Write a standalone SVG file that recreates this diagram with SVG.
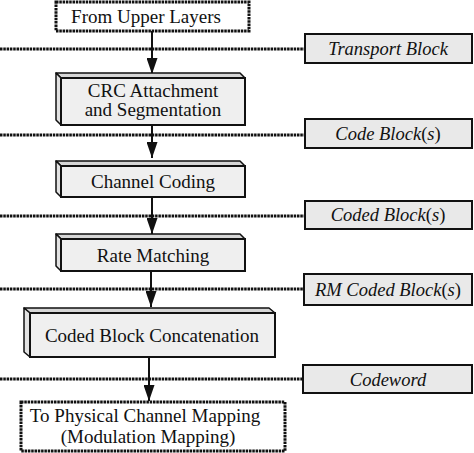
<svg xmlns="http://www.w3.org/2000/svg" width="474" height="453" viewBox="0 0 474 453">
<defs>
<style>
.t{font-family:"Liberation Serif","Times New Roman",serif;font-size:19px;fill:#111;}
.i{font-style:italic;font-size:18.5px;}
.n{font-style:normal;}
.lbl{fill:#e9e9e9;stroke:#111;stroke-width:2;}
.dot{fill:#fff;stroke:#111;stroke-width:3;stroke-dasharray:2.5 0.8;}
.sep{stroke:#111;stroke-width:3;stroke-dasharray:2.5 0.8;fill:none;}
.front{fill:#efefef;stroke:#111;stroke-width:2;}
.side{fill:#e2e2e2;stroke:#111;stroke-width:1.5;stroke-linejoin:round;}
.top{fill:#d6d6d6;stroke:#111;stroke-width:1.5;stroke-linejoin:round;}
.arr{stroke:#111;stroke-width:2;fill:none;marker-end:url(#ah);}
</style>
<marker id="ah" viewBox="0 0 16 11" refX="16" refY="5.5" markerWidth="16" markerHeight="11" markerUnits="userSpaceOnUse" orient="auto">
<path d="M0,0 L16,5.5 L0,11 Z" fill="#111"/>
</marker>
</defs>

<g id="separators">
<line class="sep" x1="0" y1="49" x2="305" y2="49"/>
<line class="sep" x1="0" y1="135" x2="305" y2="135"/>
<line class="sep" x1="0" y1="216" x2="305" y2="216"/>
<line class="sep" x1="0" y1="289" x2="304" y2="289"/>
<line class="sep" x1="0" y1="379" x2="303" y2="379"/>
</g>

<g id="connectors">
<line class="arr" x1="152" y1="31" x2="152" y2="74"/>
<line class="arr" x1="152" y1="125" x2="152" y2="158"/>
<line class="arr" x1="152" y1="197" x2="152" y2="234"/>
<line class="arr" x1="151" y1="271" x2="151" y2="307"/>
<line class="arr" x1="149" y1="357" x2="149" y2="401"/>
</g>

<g id="from-upper">
<rect class="dot" x="56" y="2" width="193" height="29"/>
<text class="t" x="146" y="23" text-anchor="middle">From Upper Layers</text>
</g>

<g id="crc">
<polygon class="top" points="56,73 240,73 245,78 61,78"/>
<polygon class="side" points="56,73 61,78 61,125 56,120"/>
<rect class="front" x="61" y="78" width="184" height="47"/>
<text class="t" x="153" y="97" text-anchor="middle">CRC Attachment</text>
<text class="t" x="153" y="116" text-anchor="middle">and Segmentation</text>
</g>

<g id="channel-coding">
<polygon class="top" points="56,161 240,161 245,166 61,166"/>
<polygon class="side" points="56,161 61,166 61,197 56,192"/>
<rect class="front" x="61" y="166" width="184" height="31"/>
<text class="t" x="153" y="188" text-anchor="middle">Channel Coding</text>
</g>

<g id="rate-matching">
<polygon class="top" points="56,234 240,234 245,239 61,239"/>
<polygon class="side" points="56,234 61,239 61,271 56,266"/>
<rect class="front" x="61" y="239" width="184" height="32"/>
<text class="t" x="153" y="262" text-anchor="middle">Rate Matching</text>
</g>

<g id="concatenation">
<polygon class="top" points="24,308 269,308 275,313 30,313"/>
<polygon class="side" points="24,308 30,313 30,357 24,352"/>
<rect class="front" x="30" y="313" width="245" height="44"/>
<text class="t" x="152" y="342" text-anchor="middle">Coded Block Concatenation</text>
</g>

<g id="to-physical">
<rect class="dot" x="21" y="402" width="264" height="49"/>
<text class="t" x="145" y="422" text-anchor="middle">To Physical Channel Mapping</text>
<text class="t" x="148" y="443" text-anchor="middle">(Modulation Mapping)</text>
</g>

<g id="label-transport">
<rect class="lbl" x="305" y="34" width="167" height="29"/>
<text class="t i" x="388" y="55" text-anchor="middle">Transport Block</text>
</g>
<g id="label-code">
<rect class="lbl" x="305" y="119" width="167" height="29"/>
<text class="t i" x="388" y="140" text-anchor="middle">Code Block<tspan class="n">(</tspan>s<tspan class="n">)</tspan></text>
</g>
<g id="label-coded">
<rect class="lbl" x="305" y="201" width="167" height="28"/>
<text class="t i" x="388" y="221" text-anchor="middle">Coded Block<tspan class="n">(</tspan>s<tspan class="n">)</tspan></text>
</g>
<g id="label-rm">
<rect class="lbl" x="304" y="274" width="168" height="31"/>
<text class="t i" x="388" y="296" text-anchor="middle">RM Coded Block<tspan class="n">(</tspan>s<tspan class="n">)</tspan></text>
</g>
<g id="label-codeword">
<rect class="lbl" x="303" y="365" width="169" height="28"/>
<text class="t i" x="388" y="386" text-anchor="middle">Codeword</text>
</g>
</svg>
